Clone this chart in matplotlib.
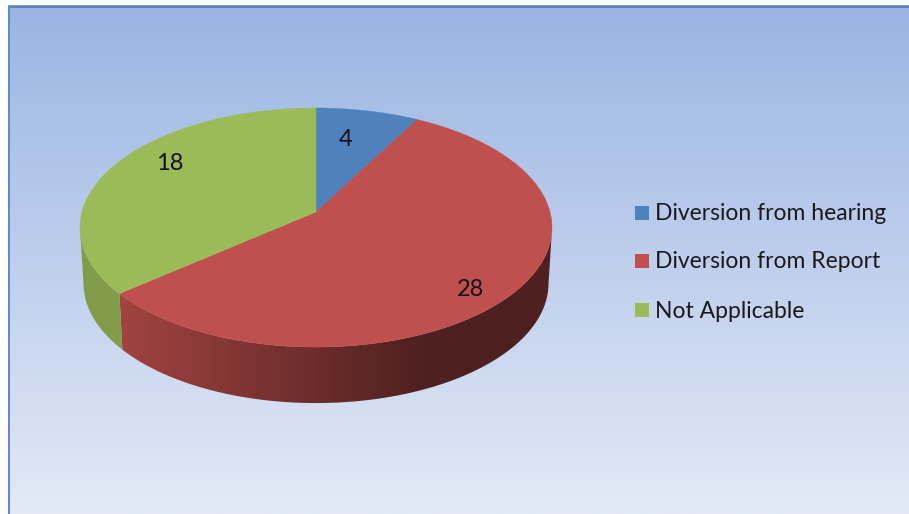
import numpy as np
import matplotlib
matplotlib.use("Agg")
import matplotlib.pyplot as plt
from matplotlib.colors import to_rgb
from matplotlib.patches import Polygon, Rectangle

plt.rcParams['font.family'] = ['Lato', 'DejaVu Sans']

categories = ['Diversion from hearing', 'Diversion from Report', 'Not Applicable']
values = [4, 28, 18]
top_colors = ['#4F81BD', '#C0504D', '#9BBB59']

W, H = 909, 514

# pie geometry in pixels, tilted with some perspective
CX, CY = 316, 212
A, B, K = 234, 117.5, 0.13
DEPTH = 56
MID_Y = 228


def project(theta):
    # theta is clockwise from 12 o'clock
    X, Y = np.sin(theta), np.cos(theta)
    d = 1 + K * Y
    return CX + A * X / d, CY - B * Y / d


def rim(theta):
    # lower edge of the side wall
    x, y = project(theta)
    return CX + (x - CX) * 0.985, y + DEPTH


fig = plt.figure(figsize=(W / 100, H / 100), dpi=100)
ax = fig.add_axes([0, 0, 1, 1])

# background gradient and frame
grad = np.linspace(0, 1, 256)[:, None, None]
c0 = np.array(to_rgb('#9AB5E3'))
c1 = np.array(to_rgb('#E3E9F6'))
ax.imshow(c0 + (c1 - c0) * grad, extent=[8, W, H, 7], aspect='auto', zorder=0)
ax.add_patch(Rectangle((8, 5), W - 8, 1.2, color='#8C9BB0', lw=0, zorder=1))
ax.add_patch(Rectangle((8, 6), W - 8, 2, color='#5585C0', lw=0, zorder=1))
ax.add_patch(Rectangle((7.5, 6), 2.2, H - 6, color='#5F8CC6', lw=0, zorder=1))

bounds = 2 * np.pi * np.cumsum([0] + values) / sum(values)

# side wall: horizontal shading clipped to the visible part of each slice
shade_x = np.linspace(80, 552, 300)
shade = np.interp(shade_x, [120, 420, 552], [0.84, 0.41, 0.41])
for i, col in enumerate(top_colors):
    ts = np.linspace(bounds[i], bounds[i + 1], 400)
    ts = ts[project(ts)[1] >= MID_Y]
    if len(ts) == 0:
        continue
    xs, ys = project(ts)
    xr, yr = rim(ts)
    outline = np.column_stack([np.r_[xs, xr[::-1]], np.r_[ys, yr[::-1]]])
    wall = Polygon(outline, closed=True, fc='none', ec='none', zorder=2)
    ax.add_patch(wall)
    rgb = np.array(to_rgb(col))[None, None, :] * shade[None, :, None]
    im = ax.imshow(rgb, extent=[80, 552, 420, 220], aspect='auto', zorder=2)
    im.set_clip_path(wall)

# top face
for i, col in enumerate(top_colors):
    ts = np.linspace(bounds[i], bounds[i + 1], 200)
    xs, ys = project(ts)
    pts = np.column_stack([np.r_[CX, xs], np.r_[CY, ys]])
    ax.add_patch(Polygon(pts, closed=True, fc=col, ec=col, lw=0.3, zorder=3))

# value labels
label_pos = [(345.5, 139), (471, 289), (170, 164)]
for (x, y), v in zip(label_pos, values):
    ax.text(x, y, str(v), fontsize=17, color='#111111', ha='center', va='center', zorder=4)

# legend
legend_y = [214, 262, 311]
for name, col, y in zip(categories, top_colors, legend_y):
    ax.add_patch(Rectangle((635, y - 8), 14, 14, fc=col, ec='none', zorder=4))
    ax.text(655, y, name, fontsize=16.5, color='#1A1A1A', ha='left', va='center', zorder=4)

ax.set_xlim(0, W)
ax.set_ylim(H, 0)
ax.axis('off')

fig.savefig('out.png', dpi=100, facecolor='white')
plt.close(fig)
